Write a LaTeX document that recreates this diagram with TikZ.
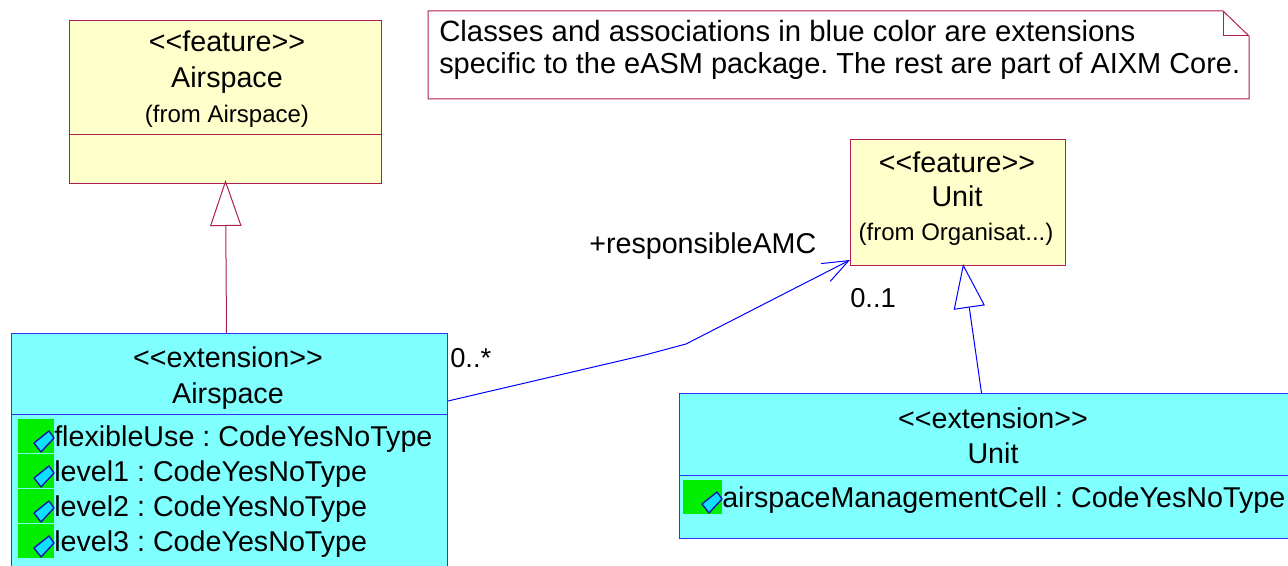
\documentclass[tikz,border=0pt]{standalone}
\usepackage{fontspec}
\setmainfont{Liberation Sans}
\usetikzlibrary{arrows.meta,calc}
\definecolor{featfill}{HTML}{FFFFCC}
\definecolor{extfill}{HTML}{80FFFF}
\definecolor{featline}{HTML}{AD1F50}
\definecolor{extline}{HTML}{3030FF}
\definecolor{iconfill}{HTML}{00EE00}
\definecolor{iconblue}{HTML}{10E0FF}
\definecolor{iconline}{HTML}{1010B0}
\newcommand{\attricon}[3]{
  \fill[iconfill](#1-#3,#2)rectangle(#1,#2+34);
  \filldraw[fill=iconblue,draw=iconline,line width=1pt,line join=round]
    (#1-20,#2+24)--(#1-5,#2+12)--(#1,#2+19)--(#1-13,#2+33)--cycle;
}
\tikzset{
  featbox/.style={draw=featline,fill=featfill,line width=0.75pt,inner sep=0pt,anchor=north west},
  extbox/.style={draw=extline,fill=extfill,line width=0.75pt,inner sep=0pt,anchor=north west},
  txt/.style={anchor=base,inner sep=0pt,font=\fontsize{21.5}{24}\selectfont},
  smalltxt/.style={anchor=base,inner sep=0pt,font=\fontsize{18}{20}\selectfont},
  lefttxt/.style={txt,anchor=base west},
  multtxt/.style={anchor=base west,inner sep=0pt,font=\fontsize{20.5}{24}\selectfont},
  notetxt/.style={anchor=base west,inner sep=0pt,font=\fontsize{#1}{24}\selectfont},
  genline/.style={line width=0.75pt,shorten >=-1.5pt,-{Triangle[open,length=33pt,width=23.5pt,fill=white]}},
  genlinetop/.style={line width=0.75pt,shorten >=-3pt,-{Triangle[open,length=34.5pt,width=23.5pt,fill=white]}},
}
\frenchspacing
\begin{document}
\begin{tikzpicture}[x=0.75pt,y=-0.75pt]
  \useasboundingbox(0,0)rectangle(1288,566);
  % classes
  \node[featbox,minimum width=234pt,minimum height=85.5pt](featAirspace)at(69,20){};
  \node[featbox,minimum width=234pt,minimum height=36.75pt](featAirspaceAttr)at(69,134){};
  \node[featbox,minimum width=161.25pt,minimum height=94.5pt](featUnit)at(850,139){};
  \node[extbox,minimum width=327pt,minimum height=60.75pt](extAirspace)at(11,333){};
  \node[extbox,minimum width=327pt,minimum height=115pt](extAirspaceAttr)at(11,414){};
  \begin{scope}
    \clip(0,0)rectangle(1288,566);
    \node[extbox,minimum width=471pt,minimum height=61.5pt](extUnit)at(679,393){};
    \node[extbox,minimum width=471pt,minimum height=47.25pt](extUnitAttr)at(679,475){};
  \end{scope}
  % note
  \draw[featline,line width=0.75pt](428,11)--(1223,11)--(1249,36)--(1249,99)--(428,99)--cycle;
  \draw[featline,line width=0.75pt](1223,11)--(1223,36)--(1249,36);
  \node[notetxt=22](noteA)at(439,42){Classes and associations in blue color are extensions};
  \node[notetxt=21.7](noteB)at(439,74){specific to the eASM package. The rest are part of AIXM Core.};
  % class texts
  \node[txt](featAirspaceType)at(227,52){<{}<feature>{}>};
  \node[txt](featAirspaceName)at(227,88){Airspace};
  \node[smalltxt](featAirspaceFrom)at(227,123){(from Airspace)};
  \node[txt](featUnitType)at(957,173){<{}<feature>{}>};
  \node[txt](featUnitName)at(957,207){Unit};
  \node[smalltxt](featUnitFrom)at(956,241){(from Organisat...)};
  \node[txt](extAirspaceType)at(228,368){<{}<extension>{}>};
  \node[txt](extAirspaceName)at(228,403){Airspace};
  \node[txt](extUnitType)at(993,428){<{}<extension>{}>};
  \node[txt](extUnitName)at(993,463){Unit};
  % attributes
  \foreach \y/\lab in {419/flexibleUse,454/level1,489/level2,524/level3}{
    \attricon{54}{\y}{36}
    \node[lefttxt](attr\lab)at(54,\y+27){\lab{} : CodeYesNoType};
  }
  \attricon{722}{480}{39}
  \node[lefttxt](attrCell)at(722,507){airspaceManagementCell : CodeYesNoType};
  % connectors
  \draw[featline,genlinetop]([xshift=-2.25pt]extAirspace.north)--(featAirspaceAttr.south);
  \draw[blue,genline]([xshift=-9pt]extUnit.north)--([xshift=4pt]featUnit.south);
  \draw[blue,line width=0.75pt,-{Straight Barb[length=19.5pt,width=15pt]}]
    (extAirspaceAttr.north east)++(0,-13)--(645,355)--(686,344)--([yshift=4.5pt]featUnit.south west);
  % association labels
  \node[lefttxt](roleAMC)at(589,254){+responsibleAMC};
  \node[multtxt](multA)at(450,368){0..*};
  \node[multtxt](multB)at(850,308){0..1};
\end{tikzpicture}
\end{document}
